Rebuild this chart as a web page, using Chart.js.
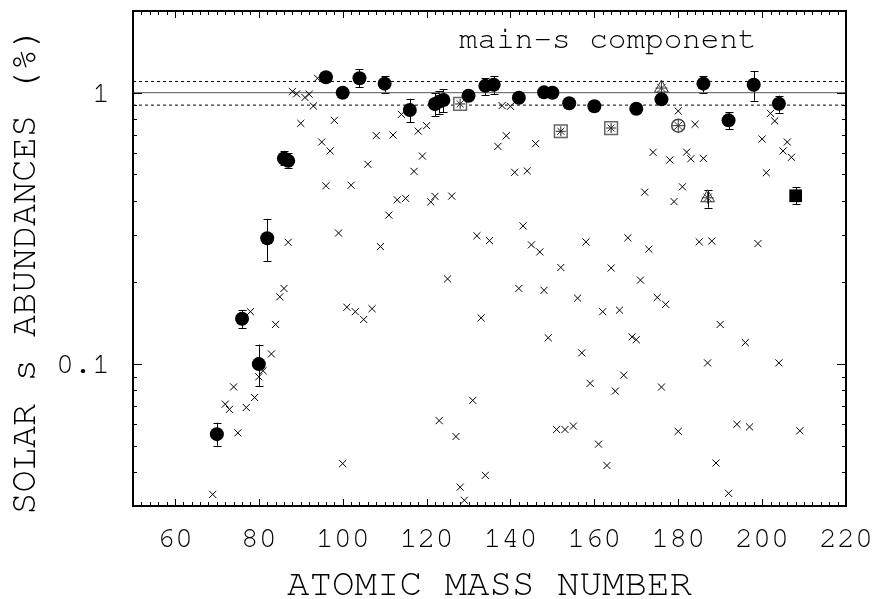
<!DOCTYPE html>
<html><head><meta charset="utf-8">
<script src="https://cdn.jsdelivr.net/npm/chart.js@4.4.1/dist/chart.umd.min.js"></script>
<style>html,body{margin:0;padding:0;background:#fff}#wrap{width:874px;height:599px;position:relative}</style>
</head><body><div id="wrap"><canvas id="c"></canvas></div>
<script>
// ---------- data ----------
const crossMass  = [69,72,73,74,75,77,78,79,80,81,83,84,85,86,87,88,89,90,91,92,93,94,95,96,97,98,99,100,101,102,103,105,106,107,108,109,111,112,113,114,115,117,118,119,120,121,122,123,125,126,127,128,129,131,132,133,134,135,137,138,139,140,141,142,143,144,145,146,147,148,149,151,152,153,155,156,157,158,159,161,162,163,164,165,166,167,168,169,170,171,172,173,174,175,176,177,178,179,180,180,181,182,183,184,185,186,187,188,189,190,192,194,196,197,199,200,201,202,203,204,205,206,207,209];
const crossAbund = [0.0331,0.0712,0.0681,0.0824,0.0558,0.0692,0.156,0.0753,0.0898,0.0945,0.109,0.140,0.177,0.190,0.281,1.01,0.99,0.771,0.96,0.987,0.893,1.13,0.658,0.454,0.610,0.791,0.304,0.0430,0.162,0.456,0.156,0.146,0.545,0.160,0.695,0.271,0.354,0.698,0.403,0.832,0.408,0.513,0.722,0.584,0.756,0.396,0.415,0.0619,0.206,0.416,0.0541,0.0352,0.0315,0.0735,0.297,0.148,0.0389,0.285,0.634,0.896,0.694,0.891,0.509,0.190,0.323,0.515,0.275,0.649,0.259,0.187,0.125,0.0574,0.227,0.0574,0.0591,0.175,0.110,0.282,0.0849,0.0507,0.156,0.0423,0.226,0.0795,0.158,0.091,0.292,0.126,0.123,0.204,0.430,0.265,0.603,0.176,0.0823,0.166,0.565,0.397,0.856,0.0565,0.450,0.604,0.571,0.765,0.282,0.573,0.101,0.284,0.0432,0.140,0.0334,0.0600,0.120,0.0587,0.278,0.675,0.507,0.839,0.787,0.101,0.610,0.658,0.578,0.0568];

const sOnlyMass  = [70,76,80,82,86,87,96,100,104,110,116,122,123,124,130,134,136,142,148,150,154,160,170,176,186,192,198,204];
const sOnlyAbund = [0.0552,0.147,0.100,0.291,0.572,0.561,1.14,1.00,1.13,1.08,0.863,0.909,0.927,0.940,0.975,1.06,1.07,0.958,1.003,1.00,0.914,0.891,0.873,0.945,1.08,0.791,1.07,0.911];
const sOnlyLow   = [0.050,0.136,0.083,0.240,0.540,0.530,1.14,1.00,1.05,1.00,0.780,0.821,0.837,0.847,0.975,0.978,0.990,0.958,1.003,1.00,0.914,0.891,0.873,0.945,1.00,0.735,0.934,0.844];
const sOnlyHigh  = [0.0608,0.158,0.118,0.343,0.611,0.600,1.14,1.00,1.22,1.15,0.950,0.995,1.015,1.030,0.975,1.13,1.152,0.958,1.003,1.00,0.914,0.891,0.873,0.945,1.152,0.849,1.20,0.975];

const boxStarMass  = [128,152,164];
const boxStarAbund = [0.909,0.721,0.741];

const triStarMass  = [176,187];
const triStarAbund = [1.04,0.41];
const triStarLow   = [1.04,0.377];
const triStarHigh  = [1.04,0.437];

const circStarMass  = [180];
const circStarAbund = [0.756];

const squareMass  = [208];
const squareAbund = [0.417];
const squareLow   = [0.389];
const squareHigh  = [0.449];

const refLevels = [0.9, 1.0, 1.1];
const xRange = [50, 220];
const yRange = [0.03, 2];
const xTickValues = [60,80,100,120,140,160,180,200,220];
const yTickValues = [0.1, 1];
const yTickLabels = ['0.1', '1'];
const yMinorValues = [0.04,0.05,0.06,0.07,0.08,0.09,0.2,0.3,0.4,0.5,0.6,0.7,0.8,0.9,2];
const xMinorStep = 2;
const titleText = 'main-s component';
const xAxisTitle = 'ATOMIC MASS NUMBER';
const yAxisTitle = 'SOLAR s ABUNDANCES (%)';

// ---------- helpers ----------
const pts = (xs, ys) => xs.map((x, i) => ({x, y: ys[i]}));
const FONT = "'Nimbus Mono PS', 'Nimbus Mono L', 'FreeMono', 'Courier New', 'Liberation Mono', monospace";
Chart.defaults.color = '#000';
Chart.defaults.font.family = FONT;

const errorBars = {
  id: 'errorBars',
  beforeDatasetsDraw(chart) {
    const ctx = chart.ctx, xs = chart.scales.x, ys = chart.scales.y;
    ctx.save();
    ctx.strokeStyle = '#000';
    ctx.lineWidth = 1;
    chart.data.datasets.forEach(ds => {
      if (!ds.errLow) return;
      ds.data.forEach((p, i) => {
        const lo = ds.errLow[i], hi = ds.errHigh[i];
        if (lo === hi) return;
        const px = Math.round(xs.getPixelForValue(p.x)) + 0.5;
        const y1 = ys.getPixelForValue(lo), y2 = ys.getPixelForValue(hi);
        ctx.beginPath();
        ctx.moveTo(px, y1); ctx.lineTo(px, y2);
        ctx.moveTo(px - 4, Math.round(y1) + 0.5); ctx.lineTo(px + 4, Math.round(y1) + 0.5);
        ctx.moveTo(px - 4, Math.round(y2) + 0.5); ctx.lineTo(px + 4, Math.round(y2) + 0.5);
        ctx.stroke();
      });
    });
    ctx.restore();
  }
};

const frameTicks = {
  id: 'frameTicks',
  afterDatasetsDraw(chart) {
    const ctx = chart.ctx, xs = chart.scales.x, ys = chart.scales.y;
    const {left, right, top, bottom} = chart.chartArea;
    ctx.save();
    ctx.strokeStyle = '#000';
    ctx.lineWidth = 1;
    ctx.beginPath();
    for (let v = xRange[0] + xMinorStep; v < xRange[1]; v += xMinorStep) {
      const px = Math.round(xs.getPixelForValue(v)) + 0.5;
      const len = xTickValues.includes(v) ? 7 : 4;
      ctx.moveTo(px, bottom); ctx.lineTo(px, bottom - len);
      ctx.moveTo(px, top); ctx.lineTo(px, top + len);
    }
    const ys_all = yMinorValues.map(v => [v, 4]).concat(yTickValues.map(v => [v, 9]));
    ys_all.forEach(([v, len]) => {
      if (v <= yRange[0] || v >= yRange[1]) return;
      const py = Math.round(ys.getPixelForValue(v)) + 0.5;
      ctx.moveTo(left, py); ctx.lineTo(left + len, py);
      ctx.moveTo(right, py); ctx.lineTo(right - len, py);
    });
    ctx.stroke();
    ctx.lineWidth = 2;
    ctx.strokeRect(left, top, right - left, bottom - top);
    ctx.fillStyle = '#000';
    // panel label
    ctx.font = "31px " + FONT;
    ctx.textAlign = 'center';
    ctx.textBaseline = 'alphabetic';
    ctx.fillText(titleText, left + (right - left) * 0.666, top + 37);
    // y axis title
    ctx.save();
    ctx.translate(24, (top + bottom) / 2 + 12);
    ctx.rotate(-Math.PI / 2);
    ctx.font = "37px " + FONT;
    ctx.textAlign = 'center';
    ctx.textBaseline = 'middle';
    ctx.fillText(yAxisTitle, 0, 0);
    ctx.restore();
    ctx.restore();
  }
};

const refLine = (lvl, dash, color) => ({
  type: 'line', data: [{x: xRange[0], y: lvl}, {x: xRange[1], y: lvl}],
  borderColor: color, borderWidth: 1, borderDash: dash, pointRadius: 0, showLine: true, fill: false
});

new Chart(document.getElementById('c'), {
  type: 'scatter',
  data: {
    datasets: [
      { data: pts(sOnlyMass, sOnlyAbund), errLow: sOnlyLow, errHigh: sOnlyHigh,
        pointStyle: 'circle', pointRadius: 7, backgroundColor: '#000', borderColor: '#000', borderWidth: 0 },
      { data: pts(squareMass, squareAbund), errLow: squareLow, errHigh: squareHigh,
        pointStyle: 'rect', pointRadius: 9, backgroundColor: '#000', borderColor: '#000', borderWidth: 0 },
      { data: pts(boxStarMass, boxStarAbund), pointStyle: 'star', pointRadius: 5, borderColor: '#222', borderWidth: 1, backgroundColor: 'transparent' },
      { data: pts(boxStarMass, boxStarAbund), pointStyle: 'rect', pointRadius: 9, borderColor: '#666', borderWidth: 1.5, backgroundColor: '#fff' },
      { data: pts(triStarMass, triStarAbund), pointStyle: 'star', pointRadius: 6, borderColor: '#333', borderWidth: 1, backgroundColor: 'transparent' },
      { data: pts(triStarMass, triStarAbund), errLow: triStarLow, errHigh: triStarHigh,
        pointStyle: 'triangle', pointRadius: 8, borderColor: '#333', borderWidth: 1, backgroundColor: 'transparent' },
      { data: pts(circStarMass, circStarAbund), pointStyle: 'star', pointRadius: 6, borderColor: '#333', borderWidth: 1, backgroundColor: 'transparent' },
      { data: pts(circStarMass, circStarAbund), pointStyle: 'circle', pointRadius: 6.5, borderColor: '#444', borderWidth: 1.5, backgroundColor: '#fff' },
      { data: pts(crossMass, crossAbund), pointStyle: 'crossRot', pointRadius: 5, borderColor: '#000', borderWidth: 1 },
      refLine(refLevels[1], [], '#555'),
      refLine(refLevels[0], [3, 3], '#000'),
      refLine(refLevels[2], [3, 3], '#000')
    ]
  },
  options: {
    responsive: true, maintainAspectRatio: false, animation: false,
    layout: { padding: { left: 0, right: 28, top: 11, bottom: 0 } },
    plugins: { legend: { display: false }, tooltip: { enabled: false } },
    scales: {
      x: {
        type: 'linear', min: xRange[0], max: xRange[1],
        grid: { display: false, drawTicks: false }, border: { display: false },
        afterBuildTicks: s => { s.ticks = xTickValues.map(v => ({value: v})); },
        afterFit: s => { s.height = 93; s.paddingLeft = 0; s.paddingRight = 0; },
        ticks: { font: { size: 30 }, padding: 14, maxRotation: 0, autoSkip: false, callback: v => String(v) },
        title: { display: true, text: xAxisTitle, font: { size: 37.5, lineHeight: 0.8 }, padding: { top: 0, bottom: 0 } }
      },
      y: {
        type: 'logarithmic', min: yRange[0], max: yRange[1],
        grid: { display: false, drawTicks: false }, border: { display: false },
        afterBuildTicks: s => { s.ticks = yTickValues.map(v => ({value: v})); },
        afterFit: s => { s.width = 133; s.paddingTop = 0; s.paddingBottom = 0; },
        ticks: { font: { size: 30 }, padding: 23, autoSkip: false,
                 callback: v => { const i = yTickValues.indexOf(v); return i >= 0 ? yTickLabels[i] : ''; } },
        title: { display: false }
      }
    }
  },
  plugins: [errorBars, frameTicks]
});
</script>
</body></html>
